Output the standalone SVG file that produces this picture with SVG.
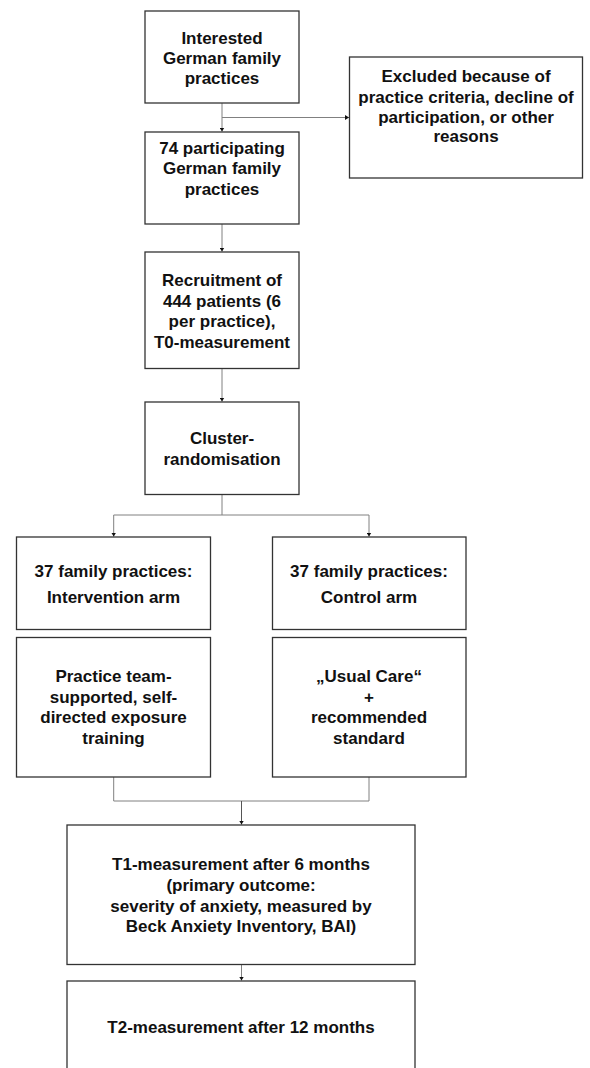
<svg xmlns="http://www.w3.org/2000/svg" width="590" height="1068" viewBox="0 0 590 1068">
<style>
.box{fill:#fff;stroke:#333;stroke-width:1.3}
.t{font-family:"Liberation Sans",Arial,sans-serif;font-weight:bold;font-size:17px;fill:#111;text-anchor:middle}
.c{fill:none;stroke:#808080;stroke-width:1}
.a{fill:none;stroke:#555;stroke-width:1}
</style>
<defs>
<marker id="arr" markerWidth="5" markerHeight="5" refX="4" refY="2.5" orient="auto" markerUnits="userSpaceOnUse">
<path d="M0,0 L4,2.5 L0,5 Z" fill="#111"/>
</marker>
</defs>
<rect width="590" height="1068" fill="#fff"/>
<g id="connectors">
<path class="c" d="M222,103 V131.5" marker-end="url(#arr)"/>
<path class="c" d="M222,117.5 H349" marker-end="url(#arr)"/>
<path class="c" d="M222,224 V251.5" marker-end="url(#arr)"/>
<path class="c" d="M222,368.5 V401.5" marker-end="url(#arr)"/>
<path class="c" d="M222,494.5 V515"/>
<path class="c" d="M222,515 H113.7 V536.5" marker-end="url(#arr)"/>
<path class="c" d="M222,515 H369 V536.5" marker-end="url(#arr)"/>
<path class="c" d="M113.7,777 V801 H369 V777"/>
<path class="a" d="M241.5,801 V824.5" marker-end="url(#arr)"/>
<path class="c" d="M241.5,964.5 V980.5" marker-end="url(#arr)"/>
</g>
<g id="n1">
<rect class="box" x="145" y="11" width="154" height="92"/>
<text class="t" x="222" y="43.5">Interested</text>
<text class="t" x="222" y="64">German family</text>
<text class="t" x="222" y="83.5">practices</text>
</g>
<g id="n_excluded">
<rect class="box" x="349.5" y="57" width="233" height="121"/>
<text class="t" x="466" y="81.5">Excluded because of</text>
<text class="t" x="466" y="102.5">practice criteria, decline of</text>
<text class="t" x="466" y="123">participation, or other</text>
<text class="t" x="466" y="142">reasons</text>
</g>
<g id="n2">
<rect class="box" x="145" y="132" width="154" height="92"/>
<text class="t" x="222" y="153.5">74 participating</text>
<text class="t" x="222" y="174">German family</text>
<text class="t" x="222" y="194.5">practices</text>
</g>
<g id="n3">
<rect class="box" x="145" y="252" width="154" height="116.5"/>
<text class="t" x="222" y="286">Recruitment of</text>
<text class="t" x="222" y="306.5">444 patients (6</text>
<text class="t" x="222" y="327">per practice),</text>
<text class="t" x="222" y="348">T0-measurement</text>
</g>
<g id="n4">
<rect class="box" x="145" y="402" width="154" height="92.5"/>
<text class="t" x="222" y="443.5">Cluster-</text>
<text class="t" x="222" y="464.5">randomisation</text>
</g>
<g id="n_int_arm">
<rect class="box" x="16.5" y="537" width="194" height="92.5"/>
<text class="t" x="113.5" y="577">37 family practices:</text>
<text class="t" x="113.5" y="603">Intervention arm</text>
</g>
<g id="n_ctrl_arm">
<rect class="box" x="272.5" y="537" width="193.5" height="92.5"/>
<text class="t" x="369" y="577">37 family practices:</text>
<text class="t" x="369" y="603">Control arm</text>
</g>
<g id="n_int">
<rect class="box" x="16.5" y="637.5" width="194" height="139.5"/>
<text class="t" x="113.5" y="682">Practice team-</text>
<text class="t" x="113.5" y="702.5">supported, self-</text>
<text class="t" x="113.5" y="723">directed exposure</text>
<text class="t" x="113.5" y="743.5">training</text>
</g>
<g id="n_ctrl">
<rect class="box" x="272.5" y="637.5" width="193.5" height="139.5"/>
<text class="t" x="369" y="682">„Usual Care“</text>
<text class="t" x="369" y="702.5">+</text>
<text class="t" x="369" y="723">recommended</text>
<text class="t" x="369" y="743.5">standard</text>
</g>
<g id="n_t1">
<rect class="box" x="67" y="825" width="348" height="139.5"/>
<text class="t" x="241" y="870">T1-measurement after 6 months</text>
<text class="t" x="241" y="890.5">(primary outcome:</text>
<text class="t" x="241" y="911.5">severity of anxiety, measured by</text>
<text class="t" x="241" y="932">Beck Anxiety Inventory, BAI)</text>
</g>
<g id="n_t2">
<rect class="box" x="67" y="981" width="348" height="110"/>
<text class="t" x="241" y="1033">T2-measurement after 12 months</text>
</g>
</svg>
